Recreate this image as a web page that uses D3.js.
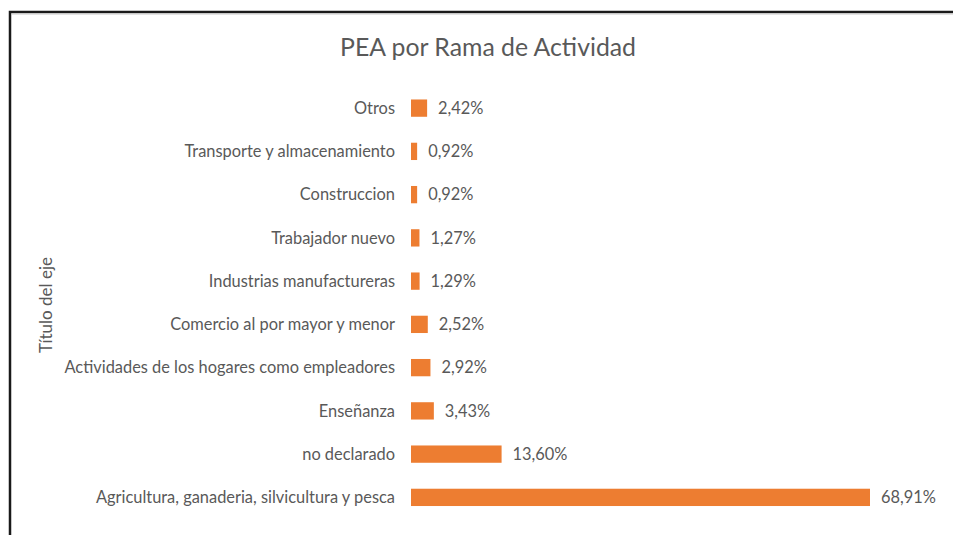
<!DOCTYPE html>
<html><head><meta charset="utf-8">
<script src="https://cdn.jsdelivr.net/npm/d3@7"></script>
<style>body{margin:0;background:#fff}svg{display:block}text{font-family:Lato,"Open Sans",sans-serif;fill:#595959}</style>
</head><body><svg id="c" width="953" height="535"></svg>
<script>
const title = "PEA por Rama de Actividad";
const axisTitle = "Título del eje";
const categories = ["Otros","Transporte y almacenamiento","Construccion","Trabajador nuevo","Industrias manufactureras","Comercio al por mayor y menor","Actividades de los hogares como empleadores","Enseñanza","no declarado","Agricultura, ganaderia, silvicultura y pesca"];
const values = [2.42,0.92,0.92,1.27,1.29,2.52,2.92,3.43,13.60,68.91];
const valueLabels = ["2,42%","0,92%","0,92%","1,27%","1,29%","2,52%","2,92%","3,43%","13,60%","68,91%"];

const svg = d3.select("#c");
// chart border
svg.append("rect").attr("x",10).attr("y",12).attr("width",960).attr("height",560)
  .attr("fill","none").attr("stroke","#1a1a1a").attr("stroke-width",2.5);
svg.append("line").attr("x1",11.5).attr("x2",953).attr("y1",14).attr("y2",14).attr("stroke","#c8c8c8").attr("stroke-width",1);

const x = d3.scaleLinear().domain([0,68.91]).range([411,870]);
const y = d3.scaleBand().domain(categories).range([86.5,519]).paddingInner(0.6).paddingOuter(0.3);

svg.append("text").attr("x",488).attr("y",56).attr("text-anchor","middle")
  .style("font-size","24.8px").text(title);

svg.append("text").attr("transform","translate(52,305) rotate(-90)").attr("text-anchor","middle")
  .style("font-size","17px").text(axisTitle);

const yAxis = d3.axisLeft(y).tickSize(0).tickPadding(0);
const g = svg.append("g").attr("transform","translate(395,0)").call(yAxis);
g.select(".domain").remove();
g.selectAll("text").style("font-size","16.4px").style("font-family","Lato").attr("fill","#595959").attr("dy","0.35em");

svg.selectAll("rect.bar").data(values).join("rect").attr("class","bar")
  .attr("x",x(0)).attr("y",(d,i)=>y(categories[i]))
  .attr("width",d=>x(d)-x(0)).attr("height",y.bandwidth())
  .attr("fill","#ED7D31");

svg.selectAll("text.val").data(values).join("text").attr("class","val")
  .attr("x",d=>x(d)+11).attr("y",(d,i)=>y(categories[i])+y.bandwidth()/2)
  .attr("dy","0.35em").style("font-size","16.4px").text((d,i)=>valueLabels[i]);
</script></body></html>
